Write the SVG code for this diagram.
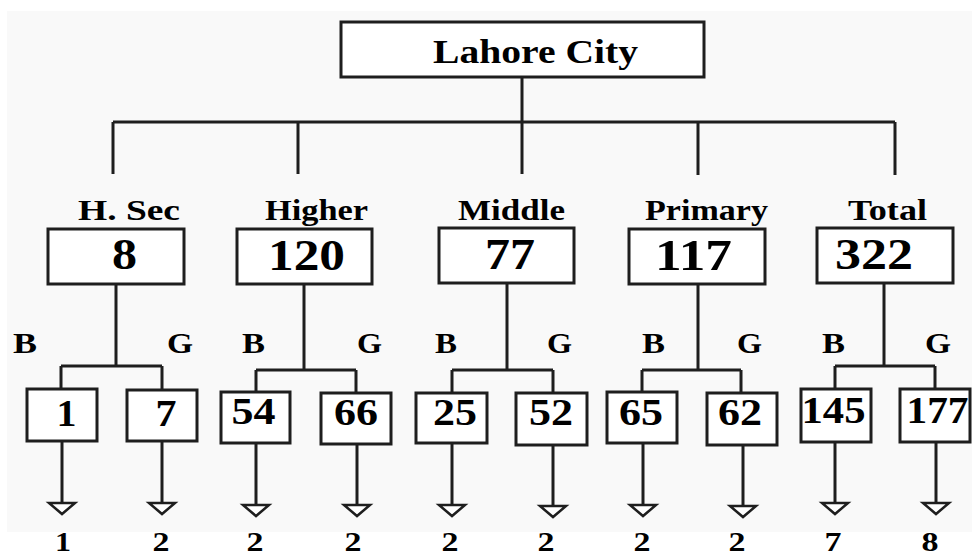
<svg xmlns="http://www.w3.org/2000/svg" width="972" height="558" viewBox="0 0 972 558">
<style>
  .box { fill: #ffffff; stroke: #1e1e1e; stroke-width: 3; }
  .ln { fill: none; stroke: #1e1e1e; stroke-width: 3; }
  .t { font-family: "Liberation Serif", "Times New Roman", serif; font-weight: bold; fill: #000; }
  .root { font-size: 34px; }
  .lab { font-size: 30px; }
  .n2 { font-size: 44px; text-anchor: middle; }
  .n3 { font-size: 38px; text-anchor: middle; }
  .bot { font-size: 28px; text-anchor: middle; }
</style>
<defs>
  <marker id="tri" viewBox="0 0 12 28" refX="0" refY="14" markerWidth="12" markerHeight="28" markerUnits="userSpaceOnUse" orient="auto" overflow="visible">
    <path d="M0,1 L0,27 L11,14 Z" fill="#ffffff" stroke="#1e1e1e" stroke-width="2.5" stroke-linejoin="miter"/>
  </marker>
</defs>
<rect x="0" y="0" width="972" height="558" fill="#ffffff"/>
<rect x="7" y="11" width="965" height="521" fill="#f9f9f9"/>

<g id="connectors">
  <path class="ln" d="M522,77 V122 M113,122 H895 M113,122 V174 M298,122 V174 M522,122 V174 M698,122 V175 M895,122 V175"/>
  <path class="ln" d="M116,284 V366 M61,366 H162 M61,366 V389 M162,366 V390"/>
  <path class="ln" d="M304,284 V370 M256,370 H356 M256,370 V392 M356,370 V393"/>
  <path class="ln" d="M507,283 V370 M452,370 H553 M452,370 V393 M553,370 V393"/>
  <path class="ln" d="M698,284 V370 M642,370 H741 M642,370 V392 M741,370 V393"/>
  <path class="ln" d="M884,283 V366 M835,366 H935 M835,366 V389 M935,366 V389"/>
  <g marker-end="url(#tri)">
    <path class="ln" d="M62,441 V503"/>
    <path class="ln" d="M162,441 V503"/>
    <path class="ln" d="M256,443 V505"/>
    <path class="ln" d="M357,444 V505"/>
    <path class="ln" d="M452,443 V505"/>
    <path class="ln" d="M553,445 V506"/>
    <path class="ln" d="M643,443 V505"/>
    <path class="ln" d="M743,445 V506"/>
    <path class="ln" d="M835,442 V503"/>
    <path class="ln" d="M936,442 V503"/>
  </g>
</g>

<g id="lahore">
  <rect class="box" x="341" y="22" width="363" height="55"/>
  <text class="t root" x="433" y="63" textLength="205" lengthAdjust="spacingAndGlyphs">Lahore City</text>
</g>

<g id="hsec">
  <text class="t lab" x="78" y="220" textLength="102" lengthAdjust="spacingAndGlyphs">H. Sec</text>
  <rect class="box" x="48" y="229" width="136" height="55"/>
  <text class="t n2" x="124.5" y="269" textLength="25" lengthAdjust="spacingAndGlyphs">8</text>
  <text class="t lab" x="13" y="353" textLength="24" lengthAdjust="spacingAndGlyphs">B</text>
  <text class="t lab" x="167" y="353" textLength="26" lengthAdjust="spacingAndGlyphs">G</text>
</g>
<g id="higher">
  <text class="t lab" x="265" y="220" textLength="103" lengthAdjust="spacingAndGlyphs">Higher</text>
  <rect class="box" x="237" y="229" width="135" height="55"/>
  <text class="t n2" x="306.5" y="270" textLength="77" lengthAdjust="spacingAndGlyphs">120</text>
  <text class="t lab" x="242" y="353" textLength="23" lengthAdjust="spacingAndGlyphs">B</text>
  <text class="t lab" x="357" y="353" textLength="25" lengthAdjust="spacingAndGlyphs">G</text>
</g>
<g id="middle">
  <text class="t lab" x="458" y="220" textLength="107" lengthAdjust="spacingAndGlyphs">Middle</text>
  <rect class="box" x="439" y="228" width="135" height="55"/>
  <text class="t n2" x="510" y="269" textLength="50" lengthAdjust="spacingAndGlyphs">77</text>
  <text class="t lab" x="435" y="353" textLength="22" lengthAdjust="spacingAndGlyphs">B</text>
  <text class="t lab" x="547" y="353" textLength="25" lengthAdjust="spacingAndGlyphs">G</text>
</g>
<g id="primary">
  <text class="t lab" x="645" y="220" textLength="123" lengthAdjust="spacingAndGlyphs">Primary</text>
  <rect class="box" x="629" y="229" width="136" height="55"/>
  <text class="t n2" x="693.5" y="270" textLength="77" lengthAdjust="spacingAndGlyphs">117</text>
  <text class="t lab" x="642" y="353" textLength="23" lengthAdjust="spacingAndGlyphs">B</text>
  <text class="t lab" x="737" y="353" textLength="25" lengthAdjust="spacingAndGlyphs">G</text>
</g>
<g id="total">
  <text class="t lab" x="848" y="220" textLength="79" lengthAdjust="spacingAndGlyphs">Total</text>
  <rect class="box" x="817" y="228" width="136" height="55"/>
  <text class="t n2" x="874" y="269" textLength="78" lengthAdjust="spacingAndGlyphs">322</text>
  <text class="t lab" x="822" y="353" textLength="23" lengthAdjust="spacingAndGlyphs">B</text>
  <text class="t lab" x="925" y="353" textLength="26" lengthAdjust="spacingAndGlyphs">G</text>
</g>

<g id="hsec-b"><rect class="box" x="27" y="389" width="70" height="52"/><text class="t n3" x="66.5" y="426" textLength="20" lengthAdjust="spacingAndGlyphs">1</text></g>
<g id="hsec-g"><rect class="box" x="127" y="390" width="70" height="51"/><text class="t n3" x="166" y="426" textLength="21" lengthAdjust="spacingAndGlyphs">7</text></g>
<g id="higher-b"><rect class="box" x="221" y="392" width="69" height="51"/><text class="t n3" x="253.5" y="424" textLength="44" lengthAdjust="spacingAndGlyphs">54</text></g>
<g id="higher-g"><rect class="box" x="321" y="393" width="70" height="51"/><text class="t n3" x="356" y="425" textLength="44" lengthAdjust="spacingAndGlyphs">66</text></g>
<g id="middle-b"><rect class="box" x="416" y="393" width="71" height="50"/><text class="t n3" x="455" y="425" textLength="44" lengthAdjust="spacingAndGlyphs">25</text></g>
<g id="middle-g"><rect class="box" x="516" y="393" width="71" height="52"/><text class="t n3" x="551" y="425" textLength="44" lengthAdjust="spacingAndGlyphs">52</text></g>
<g id="primary-b"><rect class="box" x="607" y="392" width="70" height="51"/><text class="t n3" x="641" y="425" textLength="44" lengthAdjust="spacingAndGlyphs">65</text></g>
<g id="primary-g"><rect class="box" x="707" y="393" width="70" height="52"/><text class="t n3" x="740" y="425" textLength="44" lengthAdjust="spacingAndGlyphs">62</text></g>
<g id="total-b"><rect class="box" x="801" y="389" width="70" height="53"/><text class="t n3" x="833.5" y="423" textLength="64" lengthAdjust="spacingAndGlyphs">145</text></g>
<g id="total-g"><rect class="box" x="900" y="389" width="70" height="53"/><text class="t n3" x="937.5" y="423" textLength="62" lengthAdjust="spacingAndGlyphs">177</text></g>

<g id="bottom-values">
  <text class="t bot" x="63" y="551" textLength="16" lengthAdjust="spacingAndGlyphs">1</text>
  <text class="t bot" x="161" y="551" textLength="17" lengthAdjust="spacingAndGlyphs">2</text>
  <text class="t bot" x="255" y="551" textLength="17" lengthAdjust="spacingAndGlyphs">2</text>
  <text class="t bot" x="353" y="551" textLength="17" lengthAdjust="spacingAndGlyphs">2</text>
  <text class="t bot" x="450" y="551" textLength="17" lengthAdjust="spacingAndGlyphs">2</text>
  <text class="t bot" x="546" y="551" textLength="17" lengthAdjust="spacingAndGlyphs">2</text>
  <text class="t bot" x="642" y="551" textLength="17" lengthAdjust="spacingAndGlyphs">2</text>
  <text class="t bot" x="737" y="551" textLength="17" lengthAdjust="spacingAndGlyphs">2</text>
  <text class="t bot" x="833" y="551" textLength="17" lengthAdjust="spacingAndGlyphs">7</text>
  <text class="t bot" x="930" y="551" textLength="17" lengthAdjust="spacingAndGlyphs">8</text>
</g>
</svg>
